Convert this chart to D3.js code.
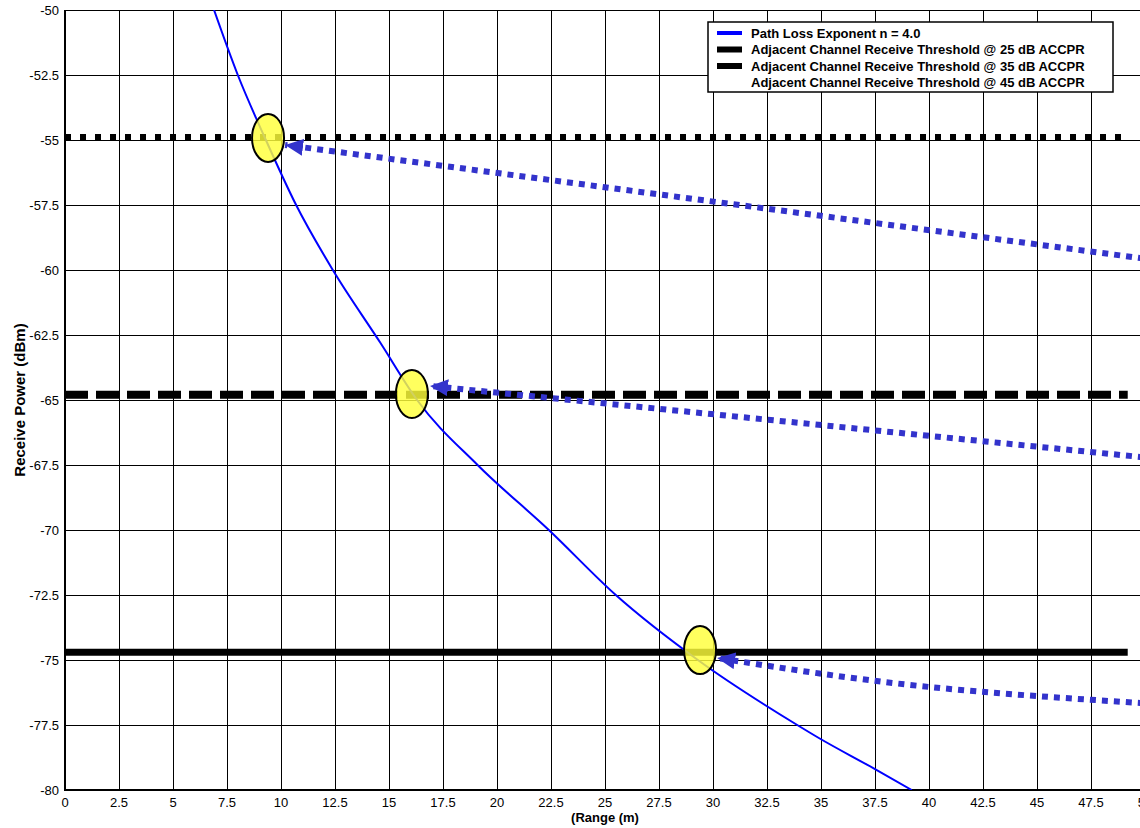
<!DOCTYPE html>
<html>
<head>
<meta charset="utf-8">
<script src="https://cdn.jsdelivr.net/npm/d3@7"></script>
<style>
  body { margin: 0; background: #fff; }
  svg { display: block; font-family: Arial, "Liberation Sans", sans-serif; }
  .tick-label { font-size: 13px; fill: #000; }
  .axis-label, .legend-text { font-size: 13px; font-weight: bold; fill: #000; }
</style>
</head>
<body>
<div id="wrapper"></div>
<script>
// path loss curve
const rangeM = [6.9, 8.0, 9.3, 10.7, 12.4, 14.6, 16.3, 19.1, 22.4, 25.5, 29.3, 33.9, 34.9, 37.4, 39.2];
const receivePower = [-50, -52.5, -55.0, -57.5, -60.0, -62.8, -65.0, -67.5, -70.0, -72.5, -75.0, -77.5, -78.0, -79.15, -80.0];

// threshold lines (25, 35, 45 dB ACCPR)
const thresholdNames = ["25 dB", "35 dB", "45 dB"];
const thresholdLevels = [-74.7, -64.8, -54.9];
const thresholdEnd = 49.2;

// highlighted crossings
const markerRange = [9.4, 16.06, 29.4];
const markerPower = [-54.92, -64.77, -74.62];

// annotation arrows, from the right edge to the crossing
const arrowRange = [
  [50.5, 10.19],
  [50.5, 16.9],
  [50.5, 39.58, 30.19],
];
const arrowPower = [
  [-59.62, -55.19],
  [-67.25, -64.46],
  [-76.69, -76.0, -74.92],
];

const xTicks = d3.range(0, 50.01, 2.5);
const yTicks = d3.range(-80, -49.99, 2.5);

const legendLabels = [
  "Path Loss Exponent n = 4.0",
  "Adjacent Channel Receive Threshold @ 25 dB ACCPR",
  "Adjacent Channel Receive Threshold @ 35 dB ACCPR",
  "Adjacent Channel Receive Threshold @ 45 dB ACCPR",
];

function drawChart() {
  //* Step 1. Dimensions
  const width = 1140;
  const height = 828;
  const plot = { left: 65, right: 1145, top: 10, bottom: 790 };

  //* Step 2. Canvas
  const svg = d3
    .select("#wrapper")
    .append("svg")
    .attr("width", width)
    .attr("height", height);

  svg.append("defs")
    .append("clipPath")
    .attr("id", "plot-clip")
    .append("rect")
    .attr("x", plot.left)
    .attr("y", plot.top)
    .attr("width", plot.right - plot.left)
    .attr("height", plot.bottom - plot.top);

  svg.select("defs")
    .append("marker")
    .attr("id", "arrow-head")
    .attr("markerUnits", "userSpaceOnUse")
    .attr("markerWidth", 20)
    .attr("markerHeight", 18)
    .attr("refX", 18)
    .attr("refY", 8.5)
    .attr("orient", "auto")
    .append("path")
    .attr("d", "M0,0 L18,8.5 L0,17 Z")
    .attr("fill", "#3333cc");

  //* Step 3. Scales
  const xScale = d3.scaleLinear().domain([0, 50]).range([plot.left, plot.right]);
  const yScale = d3.scaleLinear().domain([-80, -50]).range([plot.bottom, plot.top]);

  //* Step 4. Grid
  const grid = svg.append("g").attr("shape-rendering", "crispEdges");
  grid.selectAll(".vgrid")
    .data(xTicks)
    .join("line")
    .attr("x1", (d) => xScale(d))
    .attr("x2", (d) => xScale(d))
    .attr("y1", plot.top)
    .attr("y2", plot.bottom)
    .attr("stroke", "#000")
    .attr("stroke-width", 1);
  grid.selectAll(".hgrid")
    .data(yTicks)
    .join("line")
    .attr("x1", plot.left)
    .attr("x2", plot.right)
    .attr("y1", (d) => yScale(d))
    .attr("y2", (d) => yScale(d))
    .attr("stroke", "#000")
    .attr("stroke-width", 1);

  // thicker left and bottom axis lines
  grid.append("line")
    .attr("x1", plot.left).attr("x2", plot.left)
    .attr("y1", plot.top).attr("y2", plot.bottom + 1)
    .attr("stroke", "#000").attr("stroke-width", 2);
  grid.append("line")
    .attr("x1", plot.left).attr("x2", plot.right)
    .attr("y1", plot.bottom).attr("y2", plot.bottom)
    .attr("stroke", "#000").attr("stroke-width", 2);

  //* Step 5. Tick labels
  svg.append("g")
    .selectAll("text")
    .data(yTicks)
    .join("text")
    .attr("class", "tick-label")
    .attr("x", plot.left - 6)
    .attr("y", (d) => yScale(d))
    .attr("dy", "0.36em")
    .attr("text-anchor", "end")
    .text((d) => String(d));

  svg.append("g")
    .selectAll("text")
    .data(xTicks)
    .join("text")
    .attr("class", "tick-label")
    .attr("x", (d) => xScale(d))
    .attr("y", 807)
    .attr("text-anchor", "middle")
    .text((d) => String(d));

  svg.append("text")
    .attr("class", "axis-label")
    .attr("x", xScale(25))
    .attr("y", 822)
    .attr("text-anchor", "middle")
    .text("(Range (m)");

  svg.append("text")
    .attr("class", "axis-label")
    .attr("transform", `translate(25, ${yScale(-65)}) rotate(-90)`)
    .attr("text-anchor", "middle")
    .style("font-size", "15px")
    .text("Receive Power (dBm)");

  //* Step 6. Data
  const bounds = svg.append("g").attr("clip-path", "url(#plot-clip)");

  const thresholdStyles = [
    { dash: null, width: 7 },
    { dash: "23 8", width: 8 },
    { dash: "6 9", width: 7 },
  ];
  bounds.selectAll(".threshold")
    .data(thresholdLevels)
    .join("line")
    .attr("x1", xScale(0))
    .attr("x2", xScale(thresholdEnd))
    .attr("y1", (d) => yScale(d))
    .attr("y2", (d) => yScale(d))
    .attr("stroke", "#000")
    .attr("stroke-width", (d, i) => thresholdStyles[i].width)
    .attr("stroke-dasharray", (d, i) => thresholdStyles[i].dash);

  const lossLine = d3.line()
    .x((d, i) => xScale(rangeM[i]))
    .y((d, i) => yScale(receivePower[i]))
    .curve(d3.curveMonotoneX);
  bounds.append("path")
    .attr("d", lossLine(rangeM))
    .attr("fill", "none")
    .attr("stroke", "#0000ff")
    .attr("stroke-width", 2);

  bounds.selectAll(".crossing")
    .data(markerRange)
    .join("ellipse")
    .attr("cx", (d) => xScale(d))
    .attr("cy", (d, i) => yScale(markerPower[i]))
    .attr("rx", 16)
    .attr("ry", 24)
    .attr("fill", "#ffff3a")
    .attr("fill-opacity", 0.82)
    .attr("stroke", "#000")
    .attr("stroke-width", 2);

  const arrowLine = d3.line()
    .x((d) => xScale(d[0]))
    .y((d) => yScale(d[1]))
    .curve(d3.curveNatural);
  svg.append("g")
    .selectAll("path")
    .data(arrowRange)
    .join("path")
    .attr("d", (d, i) => arrowLine(d.map((r, j) => [r, arrowPower[i][j]])))
    .attr("fill", "none")
    .attr("stroke", "#3333cc")
    .attr("stroke-width", 6)
    .attr("stroke-dasharray", "6 6")
    .attr("marker-end", "url(#arrow-head)");

  //* Step 7. Legend
  const legend = svg.append("g").attr("transform", "translate(708, 22)");
  legend.append("rect")
    .attr("width", 405)
    .attr("height", 70)
    .attr("fill", "#fff")
    .attr("stroke", "#000")
    .attr("stroke-width", 1.5);

  const sampleColors = ["#0000ff", "#000", "#000", null];
  const sampleWidths = [4, 6, 6, 0];
  legend.selectAll(".legend-sample")
    .data(legendLabels)
    .join("line")
    .attr("x1", 9)
    .attr("x2", 34)
    .attr("y1", (d, i) => 11 + i * 16.5)
    .attr("y2", (d, i) => 11 + i * 16.5)
    .attr("stroke", (d, i) => sampleColors[i])
    .attr("stroke-width", (d, i) => sampleWidths[i]);

  legend.selectAll(".legend-text")
    .data(legendLabels)
    .join("text")
    .attr("class", "legend-text")
    .attr("x", 43)
    .attr("y", (d, i) => 15.5 + i * 16.5)
    .text((d) => d);
}
drawChart();
</script>
</body>
</html>
